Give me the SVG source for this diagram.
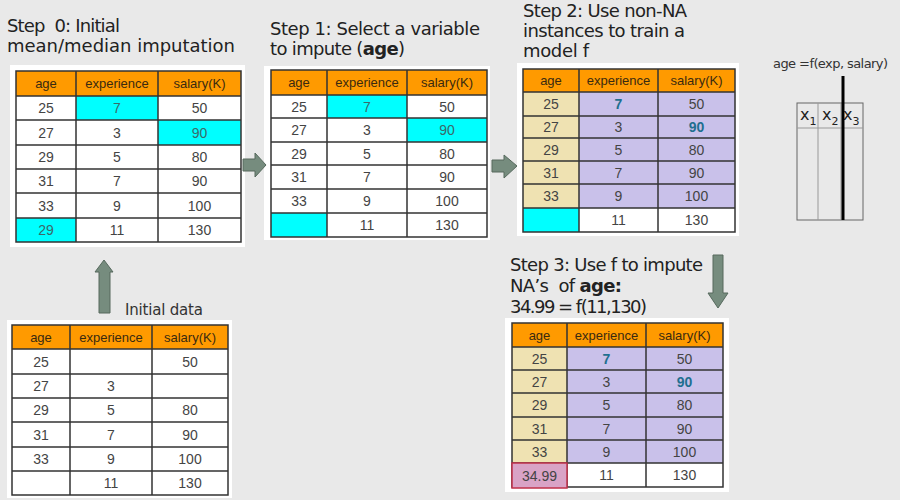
<svg xmlns="http://www.w3.org/2000/svg" width="900" height="500" viewBox="0 0 900 500">
<style>
.title{font-family:"DejaVu Sans","Liberation Sans",Arial,sans-serif;font-size:18px;fill:#222}
.bg{fill:#fff}
.hd{fill:#ff9a00}
.ht{font-family:"Liberation Sans",Arial,sans-serif;font-size:13px;fill:#3a2a10;text-anchor:middle}
.ct{font-family:"Liberation Sans",Arial,sans-serif;font-size:14px;fill:#444;text-anchor:middle}
.cy{fill:#00ffff}
.cyt{fill:#3a6a6a}
.be{fill:#efe2b2}
.lv{fill:#c9c1ea}
.bt{fill:#1f6f8f;font-weight:bold}
.grid{stroke:#333;stroke-width:1.5;fill:none}
.arrow{fill:#768c7e;stroke:#56695d;stroke-width:1}
</style>
<rect width="900" height="500" fill="#e9e9e9"/>

<g id="title0">
<text class="title" x="7" y="32" textLength="113" xml:space="preserve">Step  0: Initial</text>
<text class="title" x="7" y="52" textLength="228">mean/median imputation</text>
</g>

<g id="table0">
<rect class="bg" x="10" y="65" width="235" height="182"/>
<rect class="hd" x="16" y="71" width="225" height="25"/>
<rect class="cy" x="76" y="96" width="82" height="24"/>
<rect class="cy" x="158" y="120" width="83" height="25"/>
<rect class="cy" x="16" y="218" width="60" height="24"/>
<path class="grid" d="M16 71H241V242H16Z M16 96H241 M16 120H241 M16 145H241 M16 169H241 M16 193H241 M16 218H241 M76 71V242 M158 71V242"/>
<text class="ht" x="46" y="88">age</text><text class="ht" x="117" y="88">experience</text><text class="ht" x="199.5" y="88">salary(K)</text>
<text class="ct" x="46" y="113">25</text><text class="ct cyt" x="117" y="113">7</text><text class="ct" x="199.5" y="113">50</text>
<text class="ct" x="46" y="137.5">27</text><text class="ct" x="117" y="137.5">3</text><text class="ct cyt" x="199.5" y="137.5">90</text>
<text class="ct" x="46" y="162">29</text><text class="ct" x="117" y="162">5</text><text class="ct" x="199.5" y="162">80</text>
<text class="ct" x="46" y="186">31</text><text class="ct" x="117" y="186">7</text><text class="ct" x="199.5" y="186">90</text>
<text class="ct" x="46" y="210.5">33</text><text class="ct" x="117" y="210.5">9</text><text class="ct" x="199.5" y="210.5">100</text>
<text class="ct cyt" x="46" y="235">29</text><text class="ct" x="117" y="235">11</text><text class="ct" x="199.5" y="235">130</text>
</g>

<g id="title1">
<text class="title" x="270" y="35" textLength="210">Step 1: Select a variable</text>
<text class="title" x="270" y="55" textLength="135">to impute (<tspan font-weight="bold">age</tspan>)</text>
</g>

<g id="table1">
<rect class="bg" x="264" y="66" width="226" height="174"/>
<rect class="hd" x="271" y="70" width="216" height="25"/>
<rect class="cy" x="327" y="95" width="80" height="23"/>
<rect class="cy" x="407" y="118" width="80" height="24"/>
<rect class="cy" x="271" y="213" width="56" height="24"/>
<path class="grid" d="M271 70H487V237H271Z M271 95H487 M271 118H487 M271 142H487 M271 165H487 M271 189H487 M271 213H487 M327 70V237 M407 70V237"/>
<text class="ht" x="299" y="87">age</text><text class="ht" x="367" y="87">experience</text><text class="ht" x="447" y="87">salary(K)</text>
<text class="ct" x="299" y="111.5">25</text><text class="ct cyt" x="367" y="111.5">7</text><text class="ct" x="447" y="111.5">50</text>
<text class="ct" x="299" y="135">27</text><text class="ct" x="367" y="135">3</text><text class="ct cyt" x="447" y="135">90</text>
<text class="ct" x="299" y="158.5">29</text><text class="ct" x="367" y="158.5">5</text><text class="ct" x="447" y="158.5">80</text>
<text class="ct" x="299" y="182">31</text><text class="ct" x="367" y="182">7</text><text class="ct" x="447" y="182">90</text>
<text class="ct" x="299" y="206">33</text><text class="ct" x="367" y="206">9</text><text class="ct" x="447" y="206">100</text>
<text class="ct" x="367" y="230">11</text><text class="ct" x="447" y="230">130</text>
</g>

<g id="title2">
<text class="title" x="523" y="17" textLength="164">Step 2: Use non-NA</text>
<text class="title" x="523" y="37" textLength="162">instances to train a</text>
<text class="title" x="523" y="57" textLength="66">model f</text>
</g>

<g id="table2">
<rect class="bg" x="517" y="63" width="222" height="173"/>
<rect class="hd" x="523" y="69" width="212" height="23"/>
<rect class="be" x="523" y="92" width="56" height="116"/>
<rect class="lv" x="579" y="92" width="156" height="116"/>
<rect class="cy" x="523" y="208" width="56" height="24"/>
<path class="grid" d="M523 69H735V232H523Z M523 92H735 M523 116H735 M523 138H735 M523 161H735 M523 184H735 M523 208H735 M579 69V232 M658 69V232"/>
<text class="ht" x="551" y="85">age</text><text class="ht" x="618.5" y="85">experience</text><text class="ht" x="696.5" y="85">salary(K)</text>
<text class="ct" x="551" y="109">25</text><text class="ct bt" x="618.5" y="109">7</text><text class="ct" x="696.5" y="109">50</text>
<text class="ct" x="551" y="132">27</text><text class="ct" x="618.5" y="132">3</text><text class="ct bt" x="696.5" y="132">90</text>
<text class="ct" x="551" y="154.5">29</text><text class="ct" x="618.5" y="154.5">5</text><text class="ct" x="696.5" y="154.5">80</text>
<text class="ct" x="551" y="177.5">31</text><text class="ct" x="618.5" y="177.5">7</text><text class="ct" x="696.5" y="177.5">90</text>
<text class="ct" x="551" y="201">33</text><text class="ct" x="618.5" y="201">9</text><text class="ct" x="696.5" y="201">100</text>
<text class="ct" x="618.5" y="225">11</text><text class="ct" x="696.5" y="225">130</text>
</g>

<g id="model">
<text x="773" y="68" textLength="115" font-family="DejaVu Sans, Liberation Sans, Arial, sans-serif" font-size="13" fill="#333">age =f(exp, salary)</text>
<rect x="797" y="103" width="66" height="117" fill="none" stroke="#666" stroke-width="1"/>
<path d="M818 103V220 M841 103V220 M797 128H863" stroke="#999" stroke-width="1" fill="none"/>
<text font-family="DejaVu Sans, Liberation Sans, Arial, sans-serif" font-size="16" fill="#222" y="120"><tspan x="800">x</tspan><tspan font-size="11" dy="5">1</tspan><tspan x="822" dy="-5">x</tspan><tspan font-size="11" dy="5">2</tspan><tspan x="843" dy="-5">x</tspan><tspan font-size="11" dy="5">3</tspan></text>
<line x1="843" y1="76" x2="843" y2="220" stroke="#000" stroke-width="3"/>
</g>

<g id="title3">
<text class="title" x="510" y="271" textLength="193">Step 3: Use f to impute</text>
<text class="title" x="510" y="292" textLength="112" xml:space="preserve">NA’s  of <tspan font-weight="bold">age:</tspan></text>
<text class="title" x="510" y="313" textLength="137">34.99 = f(11,130)</text>
</g>

<g id="table3">
<rect class="bg" x="505" y="318" width="224" height="174"/>
<rect class="hd" x="512" y="323" width="211" height="24"/>
<rect class="be" x="512" y="347" width="55" height="116"/>
<rect class="lv" x="567" y="347" width="156" height="116"/>
<path class="grid" d="M512 323H723V487H512Z M512 347H723 M512 370H723 M512 393H723 M512 417H723 M512 440H723 M512 463H723 M567 323V487 M646 323V487"/>
<rect x="512" y="463" width="55" height="25" fill="#d9a3c6" stroke="#c0304a" stroke-width="1.5"/>
<text class="ht" x="539.5" y="340">age</text><text class="ht" x="606.5" y="340">experience</text><text class="ht" x="684.5" y="340">salary(K)</text>
<text class="ct" x="539.5" y="363.5">25</text><text class="ct bt" x="606.5" y="363.5">7</text><text class="ct" x="684.5" y="363.5">50</text>
<text class="ct" x="539.5" y="386.5">27</text><text class="ct" x="606.5" y="386.5">3</text><text class="ct bt" x="684.5" y="386.5">90</text>
<text class="ct" x="539.5" y="410">29</text><text class="ct" x="606.5" y="410">5</text><text class="ct" x="684.5" y="410">80</text>
<text class="ct" x="539.5" y="433.5">31</text><text class="ct" x="606.5" y="433.5">7</text><text class="ct" x="684.5" y="433.5">90</text>
<text class="ct" x="539.5" y="456.5">33</text><text class="ct" x="606.5" y="456.5">9</text><text class="ct" x="684.5" y="456.5">100</text>
<text class="ct" x="539.5" y="481" font-size="16" fill="#4a2a3a">34.99</text><text class="ct" x="606.5" y="480">11</text><text class="ct" x="684.5" y="480">130</text>
</g>

<g id="initial">
<text x="125" y="315" textLength="78" font-family="DejaVu Sans, Liberation Sans, Arial, sans-serif" font-size="15" fill="#333">Initial data</text>
<rect class="bg" x="7" y="320" width="225" height="178"/>
<rect class="hd" x="12" y="325" width="216" height="24"/>
<path class="grid" d="M12 325H228V495H12Z M12 349H228 M12 374H228 M12 398H228 M12 422H228 M12 447H228 M12 471H228 M70 325V495 M152 325V495"/>
<text class="ht" x="41" y="342">age</text><text class="ht" x="111" y="342">experience</text><text class="ht" x="190" y="342">salary(K)</text>
<text class="ct" x="41" y="366.5">25</text><text class="ct" x="190" y="366.5">50</text>
<text class="ct" x="41" y="391">27</text><text class="ct" x="111" y="391">3</text>
<text class="ct" x="41" y="415">29</text><text class="ct" x="111" y="415">5</text><text class="ct" x="190" y="415">80</text>
<text class="ct" x="41" y="439.5">31</text><text class="ct" x="111" y="439.5">7</text><text class="ct" x="190" y="439.5">90</text>
<text class="ct" x="41" y="464">33</text><text class="ct" x="111" y="464">9</text><text class="ct" x="190" y="464">100</text>
<text class="ct" x="111" y="488">11</text><text class="ct" x="190" y="488">130</text>
</g>

<g id="connectors">
<path class="arrow" d="M243 159H255V153L266 165L255 177V171H243Z"/>
<path class="arrow" d="M492 160H504V155L517 166L504 178V172H492Z"/>
<path class="arrow" d="M713 255H723V293H728L718 308L708 293H713Z"/>
<path class="arrow" d="M99 313V272H95L104 260L113 272H110V313Z"/>
</g>
</svg>
